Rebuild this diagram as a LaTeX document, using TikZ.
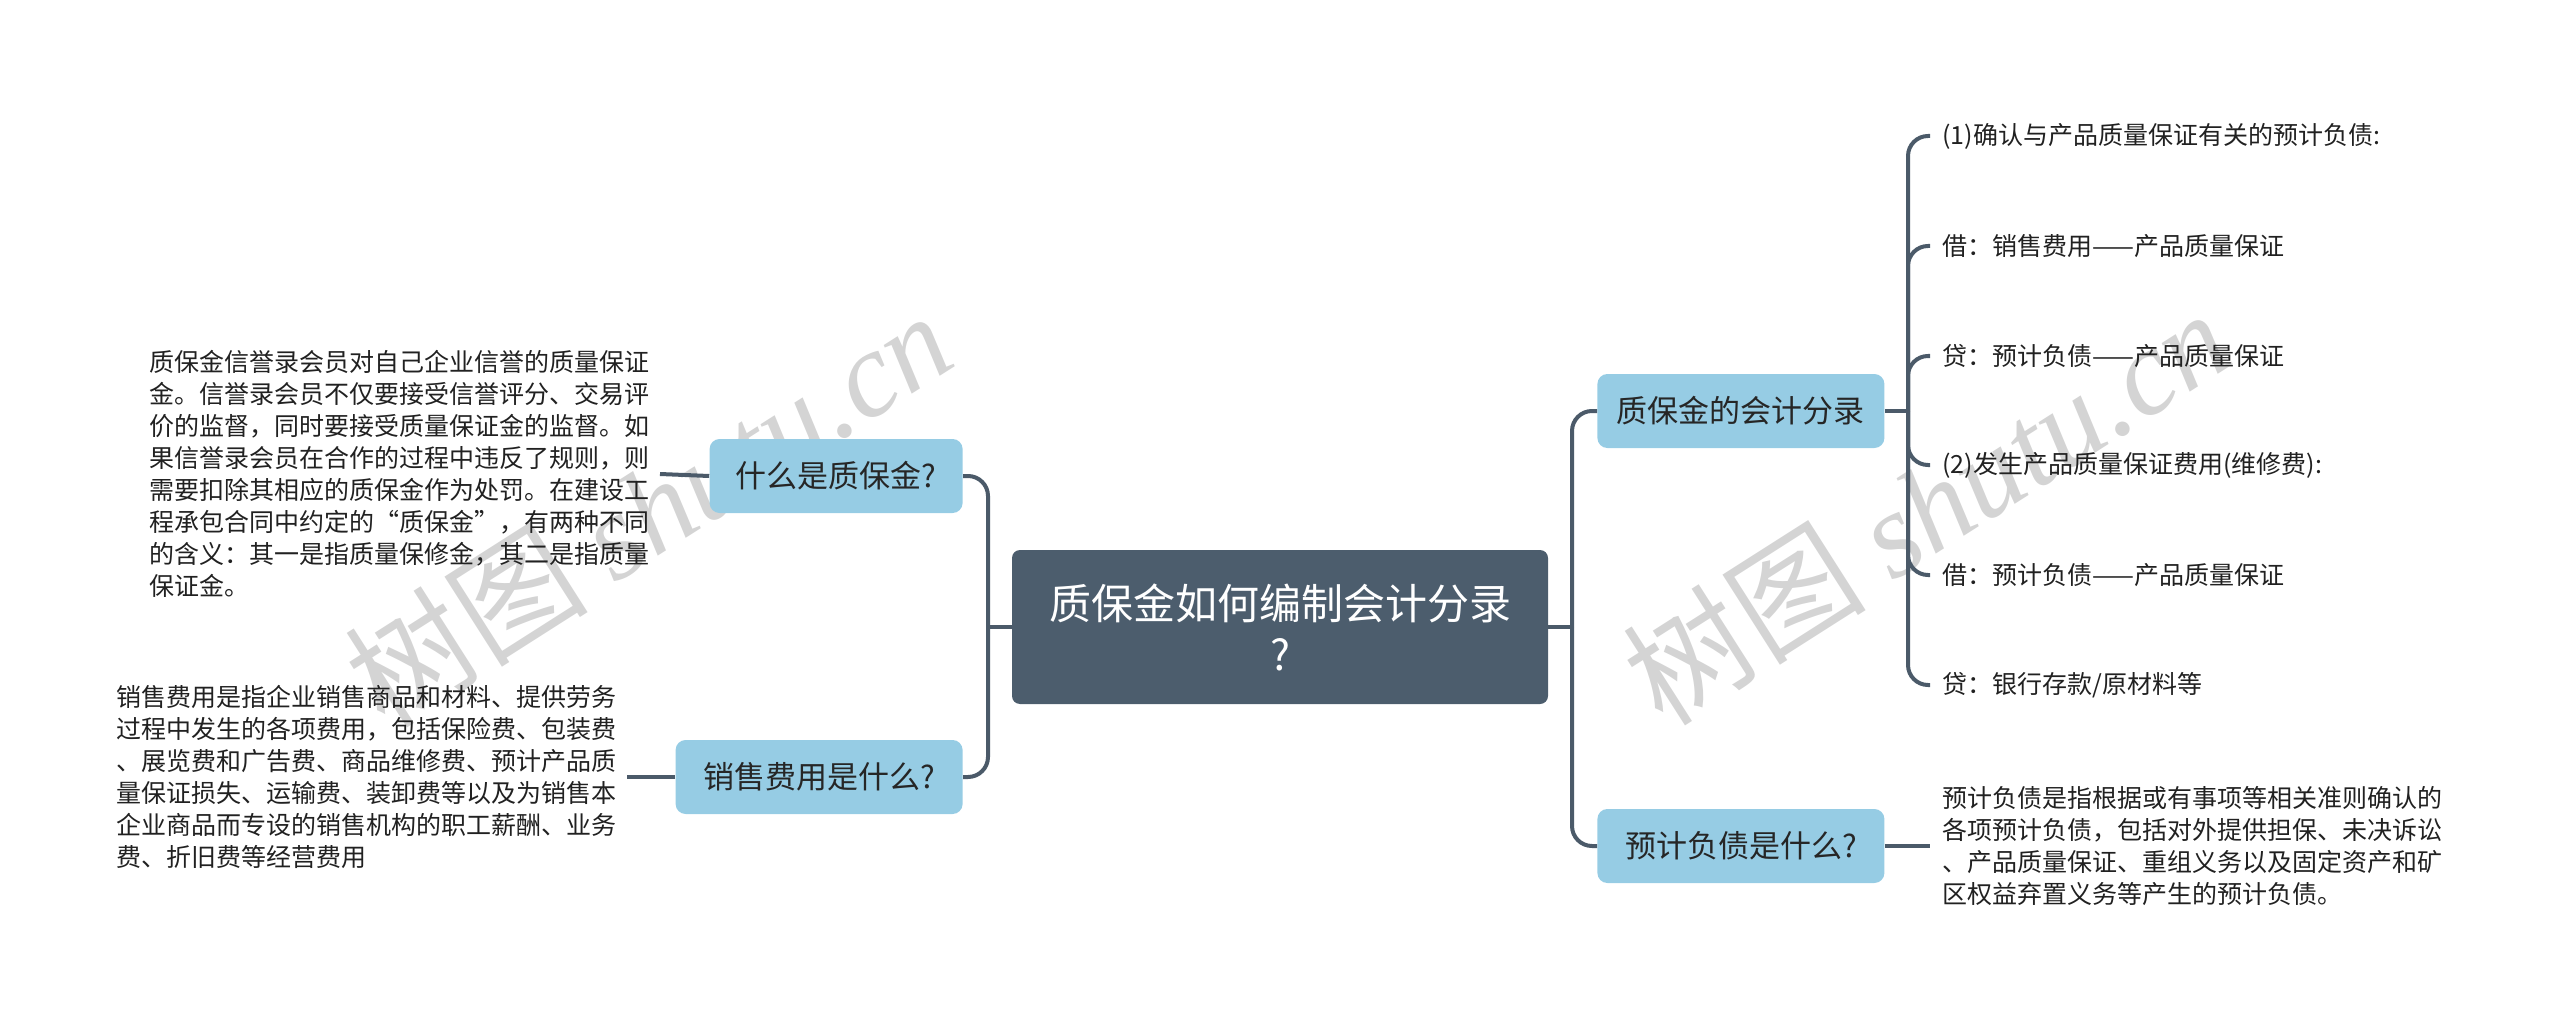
\documentclass[tikz,border=0pt]{standalone}
\usepackage{fontspec}
\setmainfont{Noto Sans CJK SC}
\newfontfamily\wmlatin{Liberation Serif}
\usepackage{tikz}

\definecolor{rootfill}{HTML}{4C5D6D}
\definecolor{topicfill}{HTML}{96CCE4}
\definecolor{linkcol}{HTML}{4B5A69}
\definecolor{wmgray}{HTML}{D4D4D4}

\tikzset{
  root/.style={fill=rootfill, text=white, rounded corners=4pt, minimum width=268pt, minimum height=77pt, align=center, font=\fontsize{21}{25.5}\selectfont},
  topic/.style={fill=topicfill, text=black!85, rounded corners=5pt, minimum width=143.5pt, minimum height=37pt, font=\fontsize{15.5}{18}\selectfont},
  note/.style={inner xsep=5pt, inner ysep=0pt, align=left, text=black!87, font=\fontsize{12.5}{16}\selectfont},
  leaf/.style={inner xsep=6pt, inner ysep=2pt, text=black!87, font=\fontsize{12.5}{16}\selectfont},
  link/.style={draw=linkcol, line width=2pt, rounded corners=10pt},
  wmark/.style={text=wmgray, font=\fontsize{61}{66}\selectfont}
}

\begin{document}
\begin{tikzpicture}[x=0.5pt, y=-0.5pt]
\useasboundingbox (0,0) rectangle (2560,1027);

% watermarks
\node[wmark, rotate=32.5] (wm1) at (648,508) {树图 {\wmlatin\itshape shutu.cn}};
\node[wmark, rotate=32.5] (wm2) at (1926,506) {树图 {\wmlatin\itshape shutu.cn}};

% root and main topics
\node[root] (c) at (1280,627) {质保金如何编制会计分录\\?};
\node[topic, anchor=west] (k1) at (1597,411) {质保金的会计分录};
\node[topic, anchor=west] (k2) at (1597,846) {预计负债是什么?};
\node[topic, anchor=east, minimum width=126.5pt] (q1) at (963,476) {什么是质保金?};
\node[topic, anchor=east] (q2) at (963,777) {销售费用是什么?};

% entries
\node[leaf, anchor=west] (l1) at (1930,136) {(1)确认与产品质量保证有关的预计负债:};
\node[leaf, anchor=west] (l2) at (1930,246) {借：销售费用——产品质量保证};
\node[leaf, anchor=west] (l3) at (1930,356) {贷：预计负债——产品质量保证};
\node[leaf, anchor=west] (l4) at (1930,465) {(2)发生产品质量保证费用(维修费):};
\node[leaf, anchor=west] (l5) at (1930,575) {借：预计负债——产品质量保证};
\node[leaf, anchor=west] (l6) at (1930,685) {贷：银行存款/原材料等};

% notes
\node[note, anchor=east] (n1) at (660,474) {质保金信誉录会员对自己企业信誉的质量保证\\金。信誉录会员不仅要接受信誉评分、交易评\\价的监督，同时要接受质量保证金的监督。如\\果信誉录会员在合作的过程中违反了规则，则\\需要扣除其相应的质保金作为处罚。在建设工\\程承包合同中约定的“质保金”，有两种不同\\的含义：其一是指质量保修金，其二是指质量\\保证金。};
\node[note, anchor=east] (n2) at (627,777) {销售费用是指企业销售商品和材料、提供劳务\\过程中发生的各项费用，包括保险费、包装费\\、展览费和广告费、商品维修费、预计产品质\\量保证损失、运输费、装卸费等以及为销售本\\企业商品而专设的销售机构的职工薪酬、业务\\费、折旧费等经营费用};
\node[note, anchor=west, inner xsep=6pt] (n3) at (1930,846) {预计负债是指根据或有事项等相关准则确认的\\各项预计负债，包括对外提供担保、未决诉讼\\、产品质量保证、重组义务以及固定资产和矿\\区权益弃置义务等产生的预计负债。};

% connectors
\coordinate (rt) at (1572,627);
\coordinate (lt) at (988,627);
\coordinate (kt) at (1908,411);
\draw[link] (c.east) -- (rt);
\draw[link] (c.west) -- (lt);
\draw[link] (rt) |- (k1.west);
\draw[link] (rt) |- (k2.west);
\draw[link] (lt) |- (q1.east);
\draw[link] (lt) |- (q2.east);
\draw[link] (k1.east) -- (kt);
\foreach \i in {1,...,6}
  \draw[link] (kt) |- (l\i.west);
\draw[link] (q1.west) -- (n1.east);
\draw[link] (q2.west) -- (n2.east);
\draw[link] (k2.east) -- (n3.west);

\end{tikzpicture}
\end{document}
